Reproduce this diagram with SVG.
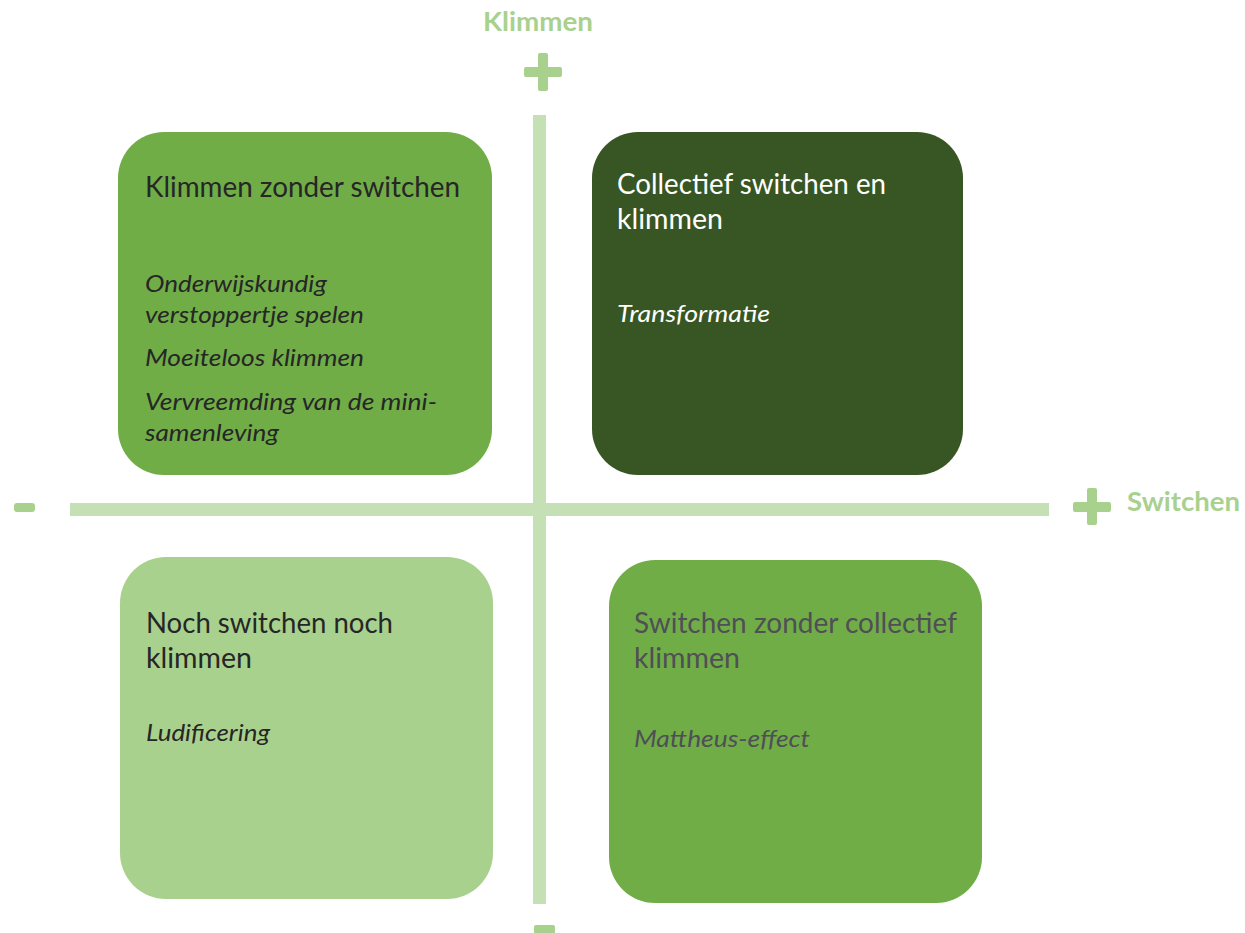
<svg xmlns="http://www.w3.org/2000/svg" width="1245" height="933" viewBox="0 0 1245 933">
<style>
.axis{fill:#c5e0b4}
.sign{fill:#a9d18e}
.lbl{font-family:Lato,"Liberation Sans",sans-serif;font-weight:bold;font-size:26px;fill:#a9d18e}
.t{font-family:Lato,"Liberation Sans",sans-serif;font-size:28px}
.i{font-family:Lato,"Liberation Sans",sans-serif;font-size:24px;font-style:italic}
</style>
<rect width="1245" height="933" fill="#ffffff"/>
<g id="axes">
<rect class="axis" x="533" y="115" width="13" height="789"/>
<rect class="axis" x="70" y="503" width="979" height="13"/>
<rect class="sign" x="538" y="53" width="10" height="38" rx="2"/>
<rect class="sign" x="524" y="67" width="38" height="10" rx="2"/>
<rect class="sign" x="1087" y="488" width="10" height="37" rx="2"/>
<rect class="sign" x="1073" y="502" width="38" height="10" rx="2"/>
<rect class="sign" x="14" y="503" width="21" height="9" rx="3"/>
<rect class="sign" x="534" y="925" width="21" height="9" rx="2"/>
<text class="lbl" x="538" y="31" text-anchor="middle" textLength="110" lengthAdjust="spacingAndGlyphs">Klimmen</text>
<text class="lbl" x="1127" y="511" textLength="113" lengthAdjust="spacingAndGlyphs">Switchen</text>
</g>
<g id="q1">
<rect x="118" y="132" width="374" height="343" rx="46" fill="#70ad47"/>
<g fill="#262626">
<text class="t" x="145" y="197" textLength="315" lengthAdjust="spacingAndGlyphs">Klimmen zonder switchen</text>
<text class="i" x="145" y="292" textLength="182" lengthAdjust="spacingAndGlyphs">Onderwijskundig</text>
<text class="i" x="145" y="323" textLength="219" lengthAdjust="spacingAndGlyphs">verstoppertje spelen</text>
<text class="i" x="145" y="366" textLength="219" lengthAdjust="spacingAndGlyphs">Moeiteloos klimmen</text>
<text class="i" x="145" y="410" textLength="292" lengthAdjust="spacingAndGlyphs">Vervreemding van de mini-</text>
<text class="i" x="145" y="441" textLength="134" lengthAdjust="spacingAndGlyphs">samenleving</text>
</g>
</g>
<g id="q2">
<rect x="592" y="132" width="371" height="343" rx="46" fill="#375623"/>
<g fill="#ffffff">
<text class="t" x="617" y="194" textLength="269" lengthAdjust="spacingAndGlyphs">Collectief switchen en</text>
<text class="t" x="617" y="229" textLength="106" lengthAdjust="spacingAndGlyphs">klimmen</text>
<text class="i" x="617" y="322" textLength="153" lengthAdjust="spacingAndGlyphs">Transformatie</text>
</g>
</g>
<g id="q3">
<rect x="120" y="557" width="373" height="342" rx="46" fill="#a9d18e"/>
<g fill="#262626">
<text class="t" x="146" y="633" textLength="247" lengthAdjust="spacingAndGlyphs">Noch switchen noch</text>
<text class="t" x="146" y="668" textLength="106" lengthAdjust="spacingAndGlyphs">klimmen</text>
<text class="i" x="146" y="741" textLength="124" lengthAdjust="spacingAndGlyphs">Ludificering</text>
</g>
</g>
<g id="q4">
<rect x="609" y="560" width="373" height="343" rx="46" fill="#70ad47"/>
<g fill="#4f4f55">
<text class="t" x="634" y="633" textLength="323" lengthAdjust="spacingAndGlyphs">Switchen zonder collectief</text>
<text class="t" x="634" y="668" textLength="106" lengthAdjust="spacingAndGlyphs">klimmen</text>
<text class="i" x="634" y="747" textLength="176" lengthAdjust="spacingAndGlyphs">Mattheus-effect</text>
</g>
</g>
</svg>
